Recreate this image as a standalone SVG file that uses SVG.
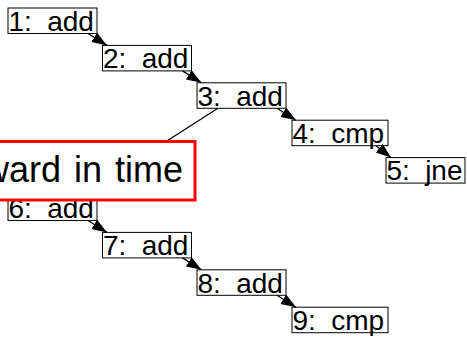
<svg xmlns="http://www.w3.org/2000/svg" width="467" height="337" viewBox="0 0 467 337">
  <defs>
    <style>
      .box { fill: #ffffff; stroke: #000000; stroke-width: 1; }
      .lbl { font-family: "Liberation Sans", Arial, sans-serif; font-size: 28px; fill: #000000; word-spacing: 7.5px; }
      .edge { stroke: #000000; stroke-width: 1.3; fill: none; }
      .arrow { marker-end: url(#head); }
      .callout { fill: #ffffff; stroke: #ff0000; stroke-width: 3; }
      .callout-text { font-family: "Liberation Sans", Arial, sans-serif; font-size: 36px; fill: #000000; text-anchor: end; word-spacing: 3px; }
    </style>
    <marker id="head" markerUnits="userSpaceOnUse" markerWidth="16" markerHeight="12" refX="15" refY="5.5" orient="auto">
      <path d="M0,0 L15,5.5 L0,11 z" fill="#000000"/>
    </marker>
  </defs>

  <!-- instruction boxes -->
  <g id="n1"><rect class="box" x="8" y="8" width="89" height="25.5"/><text class="lbl" x="8.5" y="30.7">1: add</text></g>
  <g id="n2"><rect class="box" x="102.5" y="45.4" width="89" height="25.5"/><text class="lbl" x="103" y="68.1">2: add</text></g>
  <g id="n3"><rect class="box" x="197" y="82.8" width="89" height="25.5"/><text class="lbl" x="197.5" y="105.5">3: add</text></g>
  <g id="n4"><rect class="box" x="292" y="120.2" width="96" height="25.5"/><text class="lbl" x="292.5" y="142.9">4: cmp</text></g>
  <g id="n5"><rect class="box" x="386" y="157.6" width="79" height="25.5"/><text class="lbl" x="386.5" y="180.3">5: jne</text></g>
  <g id="n6"><rect class="box" x="8" y="195" width="89" height="25.5"/><text class="lbl" x="8.5" y="217.7">6: add</text></g>
  <g id="n7"><rect class="box" x="102.5" y="232.4" width="89" height="25.5"/><text class="lbl" x="103" y="255.1">7: add</text></g>
  <g id="n8"><rect class="box" x="197" y="269.8" width="89" height="25.5"/><text class="lbl" x="197.5" y="292.5">8: add</text></g>
  <g id="n9"><rect class="box" x="292" y="307.2" width="96" height="25.5"/><text class="lbl" x="292.5" y="329.9">9: cmp</text></g>

  <!-- connectors -->
  <g id="edges">
    <line class="edge arrow" x1="88" y1="33.5" x2="107" y2="45.4"/>
    <line class="edge arrow" x1="182.5" y1="70.9" x2="201.5" y2="82.8"/>
    <line class="edge arrow" x1="277" y1="108.3" x2="296" y2="120.2"/>
    <line class="edge arrow" x1="376" y1="145.7" x2="391" y2="157.6"/>
    <line class="edge arrow" x1="88" y1="220.5" x2="107" y2="232.4"/>
    <line class="edge arrow" x1="182.5" y1="257.9" x2="201.5" y2="269.8"/>
    <line class="edge arrow" x1="277" y1="295.3" x2="296" y2="307.2"/>
    <line class="edge" x1="218" y1="108.3" x2="166" y2="141.5"/>
  </g>

  <!-- callout -->
  <g id="note">
    <rect class="callout" x="-20" y="141.5" width="215" height="58.5"/>
    <text class="callout-text" x="183" y="181.5">ward in time</text>
  </g>
</svg>
